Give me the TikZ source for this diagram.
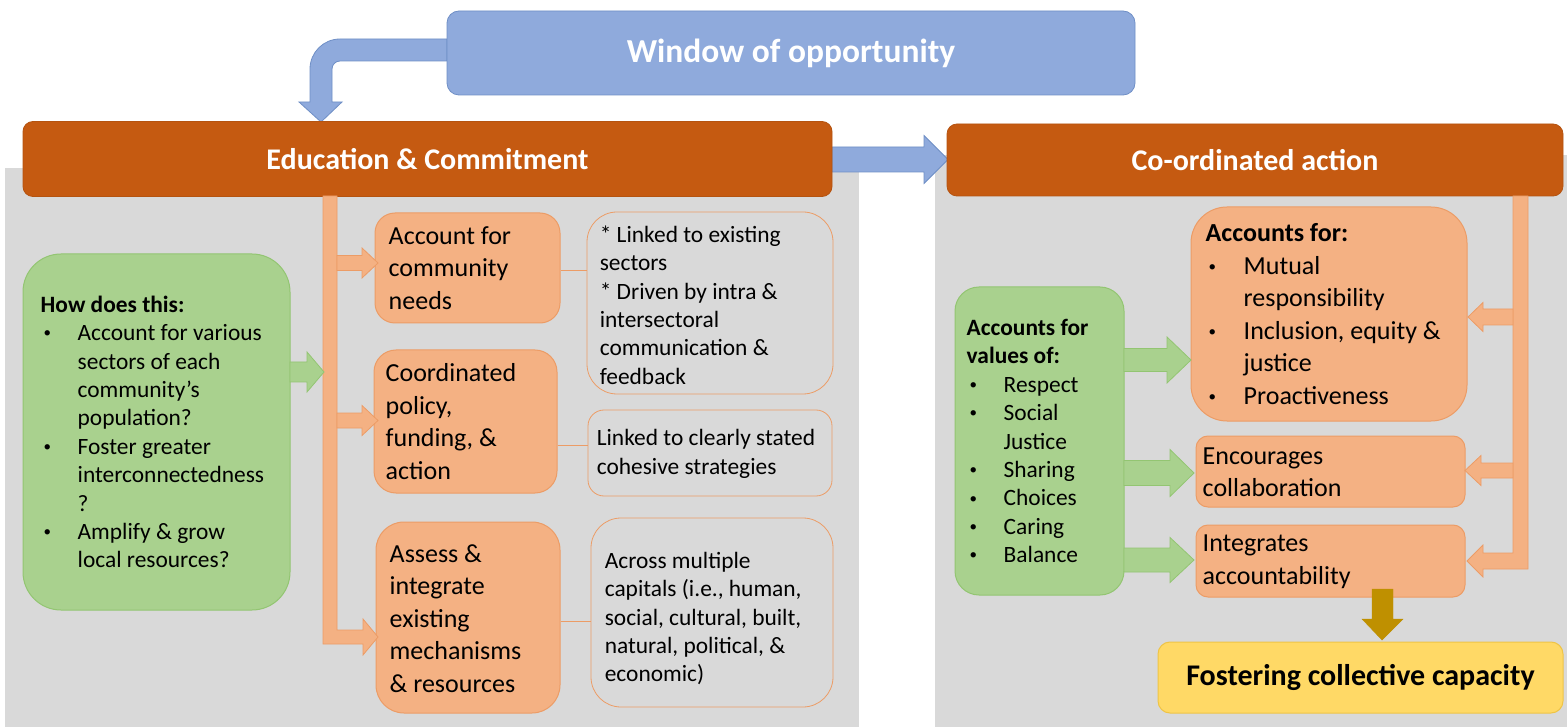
\documentclass[tikz,border=0pt]{standalone}
\usepackage{fontspec}
\setmainfont{Carlito}
\definecolor{panelgrey}{HTML}{D9D9D9}
\definecolor{hdrorange}{HTML}{C55A11}
\definecolor{bluefill}{HTML}{8FAADC}
\definecolor{blueline}{HTML}{6F8FC6}
\definecolor{grnfill}{HTML}{A9D18E}
\definecolor{grnline}{HTML}{93C572}
\definecolor{lofill}{HTML}{F4B183}
\definecolor{loline}{HTML}{EC9C66}
\definecolor{goldfill}{HTML}{BF9000}
\definecolor{yelfill}{HTML}{FFD966}
\definecolor{yelline}{HTML}{EFC446}
\newcommand{\mydot}{\raisebox{0.12em}{\fontsize{15}{15}\selectfont •}}
\newcommand{\mybul}{\makebox[37pt][l]{\hspace{3pt}\mydot}}
\newcommand{\myind}{\hspace*{37pt}}
\newcommand{\blockR}[7]{%
  \draw[#1] (#2,#5-#6) -- (#3,#5-#6) -- (#3,#5-#7) -- (#4,#5) -- (#3,#5+#7) -- (#3,#5+#6) -- (#2,#5+#6) -- cycle;}
\begin{document}
\begin{tikzpicture}[x=1pt,y=-1pt,
  panel/.style={fill=panelgrey,draw=none},
  hdr/.style={fill=hdrorange,draw=hdrorange!92!black,line width=0.8pt,rounded corners=10pt,text=white,
    font=\fontsize{30}{36}\selectfont\bfseries},
  winbox/.style={fill=bluefill,draw=blueline,line width=0.8pt,rounded corners=12pt,text=white,
    font=\fontsize{33.5}{40}\selectfont\bfseries},
  gbox/.style={fill=grnfill,draw=grnline,line width=1pt},
  obox/.style={fill=lofill,draw=loline,line width=1pt},
  tbox/.style={fill=panelgrey,draw=loline,line width=0.8pt},
  ybox/.style={fill=yelfill,draw=yelline,line width=1pt,rounded corners=12pt,
    font=\fontsize{30}{36}\selectfont\bfseries},
  stxt/.style={anchor=west,align=left,inner sep=0pt,font=\fontsize{23.4}{28.4}\selectfont},
  mtxt/.style={anchor=west,align=left,inner sep=0pt,font=\fontsize{26}{32.5}\selectfont},
  garrow/.style={fill=grnfill,draw=grnline,line width=0.8pt},
  oarrow/.style={fill=lofill,draw=loline,line width=0.8pt},
  barrow/.style={fill=bluefill,draw=blueline,line width=0.8pt},
  darrow/.style={fill=goldfill,draw=goldfill},
  link/.style={draw=loline,line width=0.8pt}
]
\useasboundingbox (0,0) rectangle (1567,727);
\fill[white] (0,0) rectangle (1567,727);

% grey panels
\path[panel] (5,168) rectangle (859,727);
\path[panel] (935,155) rectangle (1567,727);

% curved blue arrow from window
\draw[barrow] (447,39) [rounded corners=30pt] -- (310,39) [sharp corners] -- (310,102) -- (299,102) -- (321,122)
  -- (342,102) -- (332,102) [rounded corners=8pt] -- (332,61) [sharp corners] -- (447,61) -- cycle;

% window
\node[winbox,minimum width=688pt,minimum height=84pt] (win) at (791,53) {\raisebox{-2pt}{Window of opportunity}};

% straight blue arrow between headers
\blockR{barrow}{832}{924}{948}{159.5}{12.5}{24}

% headers
\node[hdr,minimum width=809pt,minimum height=75pt] (hdrL) at (427.5,159) {Education \& Commitment};
\node[hdr,minimum width=616pt,minimum height=72pt] (hdrR) at (1255,160) {Co-ordinated action};

% ---------- left section ----------
\node[gbox,rounded corners=38pt,minimum width=267pt,minimum height=356pt] (gL) at (156.5,432) {};
\node[stxt] (gLt) at ([xshift=18pt]gL.west) {\textbf{How does this:}\\
\mybul Account for various\\
\myind sectors of each\\
\myind community’s\\
\myind population?\\
\mybul Foster greater\\
\myind interconnectedness\\
\myind ?\\
\mybul Amplify \& grow\\
\myind local resources?};

\node[obox,rounded corners=20pt,minimum width=185pt,minimum height=110pt] (b1) at (467.5,268) {};
\node[mtxt] (b1t) at ([xshift=14pt]b1.west) {Account for\\community\\needs};
\node[obox,rounded corners=22pt,minimum width=183pt,minimum height=143pt] (b2) at (465.5,421.5) {};
\node[mtxt] (b2t) at ([xshift=12pt]b2.west) {Coordinated\\policy,\\funding, \&\\action};
\node[obox,rounded corners=28pt,minimum width=184pt,minimum height=191pt] (b3) at (468,617.5) {};
\node[mtxt] (b3t) at ([xshift=14pt,yshift=-1pt]b3.west) {Assess \&\\integrate\\existing\\mechanisms\\\& resources};

\node[tbox,rounded corners=30pt,minimum width=246pt,minimum height=182pt] (t1) at (710,303) {};
\node[stxt] (t1t) at ([xshift=13pt,yshift=-2pt]t1.west) {* Linked to existing\\sectors\\* Driven by intra \&\\intersectoral\\communication \&\\feedback};
\node[tbox,rounded corners=16pt,minimum width=244pt,minimum height=86pt] (t2) at (710,453) {};
\node[stxt] (t2t) at ([xshift=9pt,yshift=-1pt]t2.west) {Linked to clearly stated\\cohesive strategies};
\node[tbox,rounded corners=30pt,minimum width=242pt,minimum height=189pt] (t3) at (712,612.5) {};
\node[stxt] (t3t) at ([xshift=14pt,yshift=-6pt]t3.west) {Across multiple\\capitals (i.e., human,\\social, cultural, built,\\natural, political, \&\\economic)};

% thin links
\draw[link] (b1.east |- 0,270) -- (t1.west |- 0,270);
\draw[link] (b2.east |- 0,445) -- (t2.west |- 0,445);
\draw[link] (b3.east |- 0,621) -- (t3.west |- 0,621);

% left orange bar with bottom bend
\draw[oarrow] (323,196) -- (337,196) -- (337,630) -- (363,630) -- (363,619) -- (378,637) -- (363,655) -- (363,644) -- (323,644) -- cycle;
\blockR{oarrow}{337}{362}{378}{263}{7.5}{15}
\blockR{oarrow}{337}{362}{378}{420.5}{7.5}{15}
% green arrow to bar
\blockR{garrow}{290}{307}{324}{372}{10}{20}

% ---------- right section ----------
\node[gbox,rounded corners=24pt,minimum width=169pt,minimum height=308pt] (gR) at (1039.5,441) {};
\node[stxt] (gRt) at ([xshift=12pt]gR.west) {\textbf{Accounts for}\\
\textbf{values of:}\\
\mybul Respect\\
\mybul Social\\
\myind Justice\\
\mybul Sharing\\
\mybul Choices\\
\mybul Caring\\
\mybul Balance};

\node[obox,rounded corners=36pt,minimum width=276pt,minimum height=214pt] (acc) at (1329,314) {};
\node[mtxt] (acct) at ([xshift=15pt]acc.west) {\textbf{Accounts for:}\\
\makebox[38pt][l]{\hspace{3pt}\mydot}Mutual\\
\hspace*{38pt}responsibility\\
\makebox[38pt][l]{\hspace{3pt}\mydot}Inclusion, equity \&\\
\hspace*{38pt}justice\\
\makebox[38pt][l]{\hspace{3pt}\mydot}Proactiveness};
\node[obox,rounded corners=12pt,minimum width=269pt,minimum height=71pt] (enc) at (1330.5,471.5) {};
\node[mtxt] (enct) at ([xshift=7pt,yshift=-1pt]enc.west) {Encourages\\collaboration};
\node[obox,rounded corners=12pt,minimum width=269pt,minimum height=72pt] (integ) at (1330.5,561) {};
\node[mtxt] (integt) at ([xshift=7pt,yshift=-1pt]integ.west) {Integrates\\accountability};

\node[ybox,minimum width=405pt,minimum height=71pt] (fost) at (1360.5,677.5) {Fostering collective capacity};

% right orange bar with bottom bend
\draw[oarrow] (1513,196) -- (1528,196) -- (1528,569) -- (1483,569) -- (1483,577) -- (1467,561) -- (1483,545) -- (1483,553) -- (1513,553) -- cycle;
\blockR{oarrow}{1513}{1483}{1468}{317}{8}{14.5}
\blockR{oarrow}{1513}{1481}{1465}{470.5}{7.5}{15}

% green arrows
\blockR{garrow}{1124}{1167}{1191}{360}{11.5}{23}
\blockR{garrow}{1124}{1170}{1194}{473}{12.5}{23.5}
\blockR{garrow}{1124}{1170}{1194}{560}{12}{22.5}

% gold down arrow
\draw[darrow] (1372,589) -- (1393,589) -- (1393,619) -- (1403,619) -- (1382,640) -- (1362,619) -- (1372,619) -- cycle;
\end{tikzpicture}
\end{document}
